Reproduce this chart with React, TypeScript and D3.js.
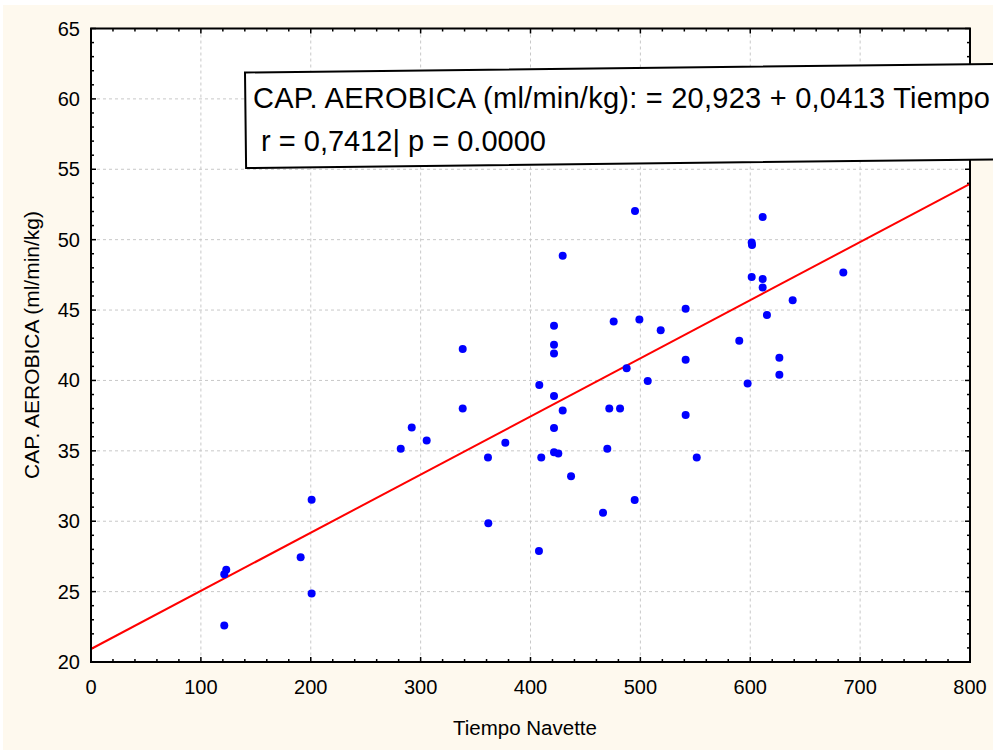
import React from "react";
import * as d3 from "d3";

const tiempo = [
  121.3, 123.1, 121.3, 200.8, 200.8, 190.8, 281.9, 291.9, 305.5, 495.1,
  429.3, 421.4, 421.4, 421.4, 475.7, 499.1, 518.5, 338.3, 487.5, 506.7,
  408.0, 421.4, 338.3, 429.3, 471.7, 481.5, 421.4, 377.1, 361.3, 409.8,
  421.4, 425.3, 469.9, 436.9, 611.3, 601.3, 601.6, 601.3, 611.3, 611.3,
  684.7, 638.6, 541.2, 615.2, 590.0, 541.2, 626.5, 626.5, 597.6, 541.2,
  551.3, 494.8, 466.0, 361.6, 407.7,
];
const capAerobica = [
  26.24, 26.55, 22.6, 31.53, 24.87, 27.44, 35.14, 36.65, 35.73, 52.03,
  48.86, 43.88, 42.54, 41.92, 44.19, 44.33, 43.57, 42.23, 40.86, 39.96,
  39.68, 38.9, 38.0, 37.86, 38.0, 38.0, 36.63, 35.57, 34.53, 34.53,
  34.9, 34.81, 35.14, 33.2, 51.61, 49.79, 49.62, 47.35, 47.21, 46.6,
  47.66, 45.7, 45.09, 44.64, 42.82, 41.47, 41.61, 40.41, 39.79, 37.55,
  34.53, 31.5, 30.61, 29.85, 27.89,
];
const xTicks = [0, 100, 200, 300, 400, 500, 600, 700, 800];
const yTicks = [20, 25, 30, 35, 40, 45, 50, 55, 60, 65];
const intercept = 20.923;
const slope = 0.0413;
const line1 = "CAP. AEROBICA (ml/min/kg): = 20,923 + 0,0413 Tiempo";
const line2 = " r = 0,7412| p = 0.0000";
const xTitle = "Tiempo Navette";
const yTitle = "CAP. AEROBICA (ml/min/kg)";

const W = 993;
const H = 750;
const L = 91, R = 970, T = 28.5, B = 662;
const FONT = "'Liberation Sans', Arial, sans-serif";

export default function App() {
  const x = d3.scaleLinear().domain([0, 800]).range([L, R]);
  const y = d3.scaleLinear().domain([20, 65]).range([B, T]);
  const xMinor = d3.range(0, 801, 20);
  const yMinor = d3.range(20, 65.01, 1);
  const lineGen = d3.line<number>().x((d) => x(d)).y((d) => y(intercept + slope * d));
  return (
    <svg width={W} height={H} style={{ position: "absolute", left: 0, top: 0 }} fontFamily={FONT}>
      <rect x={0} y={0} width={W} height={H} fill="#ffffff" />
      <rect x={3} y={5} width={W - 3} height={H - 5} fill="#fef9ee" />
      <rect x={L} y={T} width={R - L} height={B - T} fill="#ffffff" />
      {/* grid */}
      {xTicks.slice(1, -1).map((t) => (
        <line key={"gx" + t} x1={x(t)} x2={x(t)} y1={T} y2={B} stroke="#c8c8c8" strokeWidth={1} strokeDasharray="3,3" />
      ))}
      {yTicks.slice(1, -1).map((t) => (
        <line key={"gy" + t} x1={L} x2={R} y1={y(t)} y2={y(t)} stroke="#c8c8c8" strokeWidth={1} strokeDasharray="3,3" />
      ))}
      {/* ticks */}
      {xMinor.map((t) => {
        const major = t % 100 === 0;
        const len = major ? 5 : 3;
        return (
          <g key={"xt" + t}>
            <line x1={x(t)} x2={x(t)} y1={B} y2={B - len} stroke="#000" strokeWidth={1.5} />
            <line x1={x(t)} x2={x(t)} y1={T} y2={T + len} stroke="#000" strokeWidth={1.5} />
          </g>
        );
      })}
      {yMinor.map((t) => {
        const major = t % 5 === 0;
        const len = major ? 5 : 3;
        return (
          <g key={"yt" + t}>
            <line x1={L} x2={L + len} y1={y(t)} y2={y(t)} stroke="#000" strokeWidth={1.5} />
            <line x1={R} x2={R - len} y1={y(t)} y2={y(t)} stroke="#000" strokeWidth={1.5} />
          </g>
        );
      })}
      {/* regression line */}
      <path d={lineGen([0, 800]) || ""} stroke="#ff0000" strokeWidth={2} fill="none" />
      {/* points */}
      {tiempo.map((v, i) => (
        <circle key={"p" + i} cx={x(v)} cy={y(capAerobica[i])} r={4} fill="#0000ff" />
      ))}
      {/* frame */}
      <rect x={L} y={T} width={R - L} height={B - T} fill="none" stroke="#000" strokeWidth={2} />
      {/* tick labels */}
      {xTicks.map((t) => (
        <text key={"xl" + t} x={x(t)} y={B + 32} textAnchor="middle" fontSize={20} fill="#000">
          {t}
        </text>
      ))}
      {yTicks.map((t) => (
        <text key={"yl" + t} x={L - 11} y={y(t) + 7} textAnchor="end" fontSize={20} fill="#000">
          {t}
        </text>
      ))}
      <text x={525} y={735} textAnchor="middle" fontSize={20.5} fill="#000">
        {xTitle}
      </text>
      <text transform={`translate(39,345) rotate(-90)`} textAnchor="middle" fontSize={21} fill="#000">
        {yTitle}
      </text>
      {/* annotation box */}
      <g transform="rotate(-0.66, 245, 72.5)">
        <rect x={245} y={72.5} width={900} height={95.5} fill="#ffffff" stroke="#000" strokeWidth={2} />
      </g>
      <text x={253} y={108} fontSize={29} fill="#000" textLength={737} lengthAdjust="spacing">
        {line1}
      </text>
      <text x={253} y={150.5} fontSize={29} fill="#000" style={{ whiteSpace: "pre" }}>
        {line2}
      </text>
    </svg>
  );
}
